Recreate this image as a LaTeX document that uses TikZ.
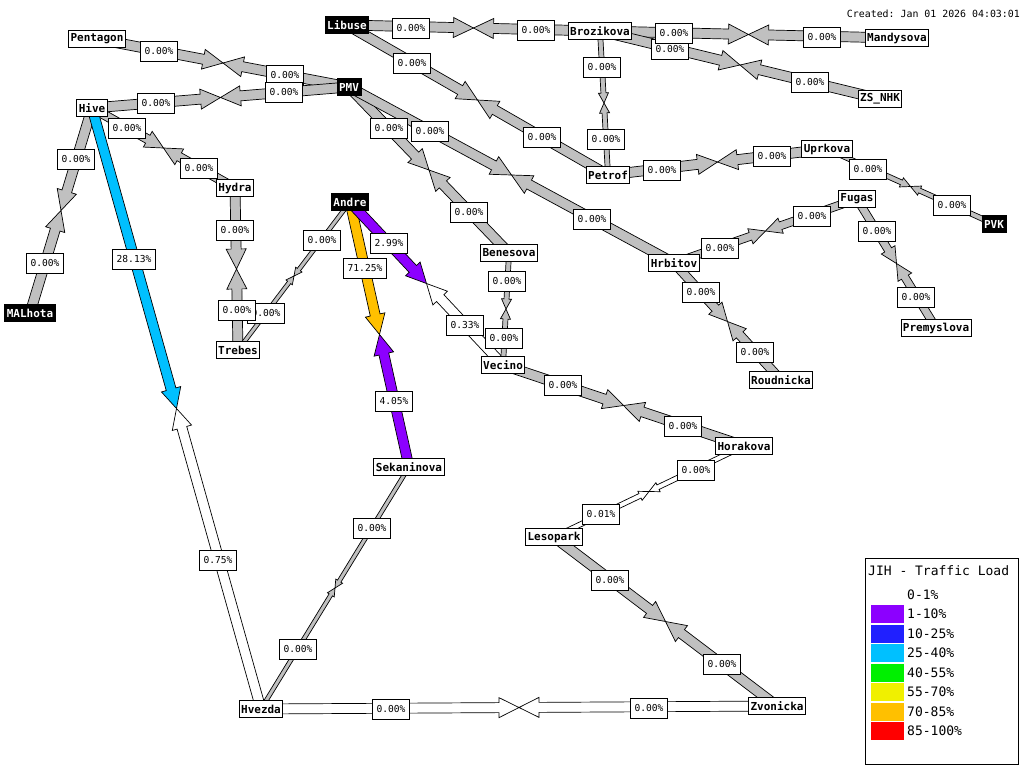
\documentclass[tikz,border=0pt]{standalone}
\usepackage{fontspec}
\setmonofont{DejaVu Sans Mono}
\usetikzlibrary{calc}
\definecolor{lgrey}{HTML}{C0C0C0}
\definecolor{lpurple}{HTML}{8C00FF}
\definecolor{lblue}{HTML}{2020FF}
\definecolor{lcyan}{HTML}{00C0FF}
\definecolor{lgreen}{HTML}{00F000}
\definecolor{lyellow}{HTML}{F0F000}
\definecolor{lorange}{HTML}{FFC000}
\definecolor{lred}{HTML}{FF0000}
\pgfdeclarelayer{bg}
\pgfsetlayers{bg,main}
% #1 from node, #2 half width, #3 fill colour; tip at (lkmid)
\newcommand{\halfarr}[3]{%
  \path ($(lkmid)!4*#2!(#1)$) coordinate (lkhb);
  \filldraw[fill=#3, draw=black, line width=0.7pt, line join=miter]
    ($(#1)!#2!90:(lkmid)$) -- ($(lkhb)!#2!-90:(#1)$) -- ($(lkhb)!2*#2!-90:(#1)$)
    -- (lkmid) -- ($(lkhb)!2*#2!90:(#1)$) -- ($(lkhb)!#2!90:(#1)$)
    -- ($(#1)!#2!-90:(lkmid)$) -- cycle;
}
% #1 node A, #2 node B, #3 half width, #4 colour A->mid, #5 colour B->mid
\newcommand{\wlink}[5]{%
  \path ($(#1)!0.5!(#2)$) coordinate (lkmid);
  \halfarr{#1}{#3}{#4}%
  \halfarr{#2}{#3}{#5}%
}
\newcommand{\pc}[1]{#1}
\tikzset{
  nbox/.style={draw=black, fill=white, line width=0.8pt,
    font=\fontsize{11}{12}\selectfont\ttfamily\bfseries,
    inner xsep=2pt, inner ysep=0pt, minimum height=17pt},
  nblack/.style={nbox, fill=black, text=white},
  pct/.style={draw=black, fill=white, line width=0.7pt,
    font=\fontsize{9.6}{10}\selectfont\ttfamily,
    inner xsep=4pt, inner ysep=0pt, minimum height=20pt},
  legtext/.style={anchor=west, font=\fontsize{13}{14}\selectfont\ttfamily, inner sep=0pt}
}
\begin{document}
\begin{tikzpicture}[x=1pt,y=-1pt]
\useasboundingbox (0,0) rectangle (1024,768);

% nodes
\node[nblack] (libuse) at (347,25) {Libuse};
\node[nbox] (pentagon) at (97,39) {Pentagon};
\node[nblack] (pmv) at (349,87) {PMV};
\node[nbox] (hive) at (92,108) {Hive};
\node[nbox] (brozikova) at (600,31) {Brozikova};
\node[nbox] (mandysova) at (897,38) {Mandysova};
\node[nbox] (zsnhk) at (880,99) {ZS\_NHK};
\node[nblack] (malhota) at (30,313) {MALhota};
\node[nbox] (hydra) at (235,188) {Hydra};
\node[nblack] (andre) at (350,202) {Andre};
\node[nbox] (trebes) at (238,350) {Trebes};
\node[nbox] (petrof) at (608,175) {Petrof};
\node[nbox] (uprkova) at (827,149) {Uprkova};
\node[nbox] (fugas) at (857,199) {Fugas};
\node[nblack] (pvk) at (994,224) {PVK};
\node[nbox] (benesova) at (509,253) {Benesova};
\node[nbox] (hrbitov) at (674,263) {Hrbitov};
\node[nbox] (premyslova) at (936,328) {Premyslova};
\node[nbox] (vecino) at (503,365) {Vecino};
\node[nbox] (roudnicka) at (781,380) {Roudnicka};
\node[nbox] (horakova) at (744,446) {Horakova};
\node[nbox] (sekaninova) at (409,467) {Sekaninova};
\node[nbox] (lesopark) at (554,537) {Lesopark};
\node[nbox] (hvezda) at (261,709) {Hvezda};
\node[nbox] (zvonicka) at (777,706) {Zvonicka};

% links
\begin{pgfonlayer}{bg}
\fill[white] (0,0) rectangle (1024,768);
\wlink{libuse}{brozikova}{5pt}{lgrey}{lgrey}
\wlink{brozikova}{mandysova}{5pt}{lgrey}{lgrey}
\wlink{brozikova}{zsnhk}{5pt}{lgrey}{lgrey}
\wlink{libuse}{petrof}{5pt}{lgrey}{lgrey}
\wlink{brozikova}{petrof}{2.5pt}{lgrey}{lgrey}
\wlink{pentagon}{pmv}{5pt}{lgrey}{lgrey}
\wlink{hive}{pmv}{5pt}{lgrey}{lgrey}
\wlink{hive}{hydra}{4.5pt}{lgrey}{lgrey}
\wlink{hive}{malhota}{5pt}{lgrey}{lgrey}
\wlink{hive}{hvezda}{5pt}{lcyan}{white}
\wlink{pmv}{benesova}{5pt}{lgrey}{lgrey}
\wlink{pmv}{hrbitov}{5pt}{lgrey}{lgrey}
\wlink{hydra}{trebes}{5pt}{lgrey}{lgrey}
\wlink{trebes}{andre}{2pt}{lgrey}{lgrey}
\wlink{andre}{sekaninova}{5pt}{lorange}{lpurple}
\wlink{andre}{vecino}{5pt}{lpurple}{white}
\wlink{benesova}{vecino}{2.5pt}{lgrey}{lgrey}
\wlink{hrbitov}{fugas}{4pt}{lgrey}{lgrey}
\wlink{fugas}{premyslova}{4pt}{lgrey}{lgrey}
\wlink{hrbitov}{roudnicka}{4.5pt}{lgrey}{lgrey}
\wlink{petrof}{uprkova}{5pt}{lgrey}{lgrey}
\wlink{uprkova}{pvk}{2.5pt}{lgrey}{lgrey}
\wlink{vecino}{horakova}{5pt}{lgrey}{lgrey}
\wlink{horakova}{lesopark}{2.5pt}{white}{white}
\wlink{lesopark}{zvonicka}{5pt}{lgrey}{lgrey}
\wlink{sekaninova}{hvezda}{2pt}{lgrey}{lgrey}
\wlink{hvezda}{zvonicka}{5pt}{white}{white}
\end{pgfonlayer}

% labels
\node[pct] (p1a) at (411,28) {\pc{0.00\%}};
\node[pct] (p1b) at (536,30) {\pc{0.00\%}};
\node[pct] (p3a) at (670,49) {\pc{0.00\%}};
\node[pct] (p2a) at (674,33) {\pc{0.00\%}};
\node[pct] (p2b) at (822,37) {\pc{0.00\%}};
\node[pct] (p3b) at (810,82) {\pc{0.00\%}};
\node[pct] (p4a) at (412,63) {\pc{0.00\%}};
\node[pct] (p4b) at (542,137) {\pc{0.00\%}};
\node[pct] (p5a) at (602,67) {\pc{0.00\%}};
\node[pct] (p5b) at (606,139) {\pc{0.00\%}};
\node[pct] (p6a) at (159,51) {\pc{0.00\%}};
\node[pct] (p6b) at (285,75) {\pc{0.00\%}};
\node[pct] (p7a) at (156,103) {\pc{0.00\%}};
\node[pct] (p7b) at (284,92) {\pc{0.00\%}};
\node[pct] (p8a) at (127,128) {\pc{0.00\%}};
\node[pct] (p8b) at (199,168) {\pc{0.00\%}};
\node[pct] (p9a) at (76,159) {\pc{0.00\%}};
\node[pct] (p9b) at (45,263) {\pc{0.00\%}};
\node[pct] (p10a) at (134,259) {\pc{28.13\%}};
\node[pct] (p10b) at (218,560) {\pc{0.75\%}};
\node[pct] (p11a) at (389,128) {\pc{0.00\%}};
\node[pct] (p11b) at (469,212) {\pc{0.00\%}};
\node[pct] (p12a) at (430,131) {\pc{0.00\%}};
\node[pct] (p12b) at (592,219) {\pc{0.00\%}};
\node[pct] (p14a) at (266,313) {\pc{0.00\%}};
\node[pct] (p14b) at (322,240) {\pc{0.00\%}};
\node[pct] (p13a) at (235,230) {\pc{0.00\%}};
\node[pct] (p13b) at (237,310) {\pc{0.00\%}};
\node[pct] (p15a) at (365,268) {\pc{71.25\%}};
\node[pct] (p15b) at (394,401) {\pc{4.05\%}};
\node[pct] (p16a) at (389,243) {\pc{2.99\%}};
\node[pct] (p16b) at (465,325) {\pc{0.33\%}};
\node[pct] (p17a) at (507,281) {\pc{0.00\%}};
\node[pct] (p17b) at (504,338) {\pc{0.00\%}};
\node[pct] (p18a) at (720,248) {\pc{0.00\%}};
\node[pct] (p18b) at (812,216) {\pc{0.00\%}};
\node[pct] (p19a) at (877,231) {\pc{0.00\%}};
\node[pct] (p19b) at (916,297) {\pc{0.00\%}};
\node[pct] (p20a) at (701,292) {\pc{0.00\%}};
\node[pct] (p20b) at (755,352) {\pc{0.00\%}};
\node[pct] (p21a) at (662,170) {\pc{0.00\%}};
\node[pct] (p21b) at (772,156) {\pc{0.00\%}};
\node[pct] (p22a) at (868,169) {\pc{0.00\%}};
\node[pct] (p22b) at (952,205) {\pc{0.00\%}};
\node[pct] (p23a) at (563,385) {\pc{0.00\%}};
\node[pct] (p23b) at (683,426) {\pc{0.00\%}};
\node[pct] (p24a) at (696,470) {\pc{0.00\%}};
\node[pct] (p24b) at (601,514) {\pc{0.01\%}};
\node[pct] (p25a) at (610,580) {\pc{0.00\%}};
\node[pct] (p25b) at (722,664) {\pc{0.00\%}};
\node[pct] (p26a) at (372,528) {\pc{0.00\%}};
\node[pct] (p26b) at (298,649) {\pc{0.00\%}};
\node[pct] (p27a) at (391,709) {\pc{0.00\%}};
\node[pct] (p27b) at (649,708) {\pc{0.00\%}};

% timestamp
\node[anchor=east, font=\fontsize{9.9}{10}\selectfont\ttfamily, inner sep=0pt] (created) at (1020,14) {Created: Jan 01 2026 04:03:01};

% legend
\draw[line width=1pt, fill=white] (865,558) rectangle (1018,764);
\node[legtext] (legtitle) at (868,571) {JIH - Traffic Load};
\node[legtext] (leg0) at (907,595) {0-1\%};
\fill[lpurple] (871,605) rectangle (904,623);
\node[legtext] (leg1) at (907,614) {1-10\%};
\fill[lblue] (871,624.5) rectangle (904,642.5);
\node[legtext] (leg2) at (907,634) {10-25\%};
\fill[lcyan] (871,644) rectangle (904,662);
\node[legtext] (leg3) at (907,653) {25-40\%};
\fill[lgreen] (871,663.5) rectangle (904,681.5);
\node[legtext] (leg4) at (907,673) {40-55\%};
\fill[lyellow] (871,683) rectangle (904,701);
\node[legtext] (leg5) at (907,692) {55-70\%};
\fill[lorange] (871,702.5) rectangle (904,720.5);
\node[legtext] (leg6) at (907,712) {70-85\%};
\fill[lred] (871,722) rectangle (904,740);
\node[legtext] (leg7) at (907,731) {85-100\%};
\end{tikzpicture}
\end{document}
